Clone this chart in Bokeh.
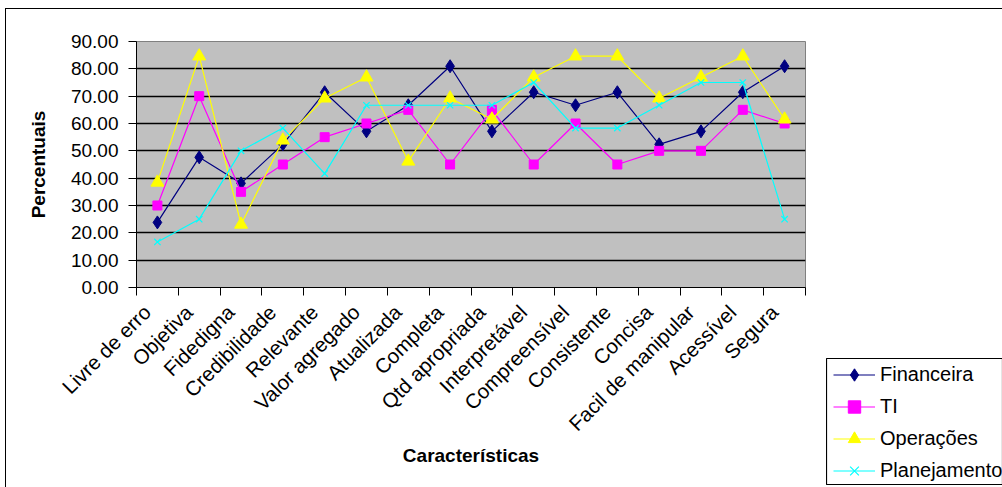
import math
from bokeh.plotting import figure
from bokeh.models import (Range1d, FixedTicker, NumeralTickFormatter, Legend,
                          LegendItem, InlineStyleSheet)
from bokeh.embed import file_html
from bokeh.resources import INLINE

categories = ["Livre de erro", "Objetiva", "Fidedigna", "Credibilidade", "Relevante",
              "Valor agregado", "Atualizada", "Completa", "Qtd apropriada",
              "Interpretável", "Compreensível", "Consistente", "Concisa",
              "Facil de manipular", "Acessível", "Segura"]
financeira = [23.81, 47.62, 38.10, 52.38, 71.43, 57.14, 66.67, 80.95, 57.14, 71.43,
              66.67, 71.43, 52.38, 57.14, 71.43, 80.95]
ti = [30, 70, 35, 45, 55, 60, 65, 45, 65, 45, 60, 45, 50, 50, 65, 60]
operacoes = [38.46, 84.62, 23.08, 53.85, 69.23, 76.92, 46.15, 69.23, 61.54, 76.92,
             84.62, 84.62, 69.23, 76.92, 84.62, 61.54]
planejamento = [16.67, 25.00, 50.00, 58.33, 41.67, 66.67, 66.67, 66.67, 66.67, 75.00,
                58.33, 58.33, 66.67, 75.00, 75.00, 25.00]
y_ticks = [0, 10, 20, 30, 40, 50, 60, 70, 80, 90]
series_names = ["Financeira", "TI", "Operações", "Planejamento"]

FONT = "Liberation Sans"
xs = list(range(len(categories)))
LABEL_SHIFT = 0.25  # category labels sit a little left of the category centre

p = figure(width=1002, height=487, x_range=Range1d(-0.5, len(categories) - 0.5),
           y_range=Range1d(0, 90), output_backend="svg", toolbar_location=None,
           min_border_left=136, min_border_right=197, min_border_top=41,
           min_border_bottom=200, background_fill_color="#C0C0C0",
           border_fill_color="white")
p.outline_line_color = "#808080"
p.outline_line_width = 1

# x axis
label_ticks = [i - LABEL_SHIFT for i in xs]
xa = p.xaxis[0]
xa.ticker = FixedTicker(ticks=label_ticks,
                        minor_ticks=[i - 0.5 for i in range(len(categories) + 1)])
xa.major_label_overrides = {t: c for t, c in zip(label_ticks, categories)}
xa.major_tick_line_color = None
xa.major_tick_out = 8
xa.major_tick_in = 0
xa.minor_tick_out = 8
xa.minor_tick_in = 0
xa.minor_tick_line_color = "black"
xa.axis_line_color = "black"
xa.major_label_orientation = math.pi / 4
xa.major_label_standoff = 13
xa.major_label_text_font = FONT
xa.major_label_text_font_size = "20.5px"
xa.major_label_text_color = "black"
xa.axis_label = "Características"
xa.axis_label_text_font = FONT
xa.axis_label_text_font_size = "19px"
xa.axis_label_text_font_style = "bold"
xa.axis_label_text_color = "black"
xa.axis_label_standoff = -1

# y axis
ya = p.yaxis[0]
ya.ticker = FixedTicker(ticks=y_ticks)
ya.formatter = NumeralTickFormatter(format="0.00")
ya.major_tick_out = 8
ya.major_tick_in = 0
ya.minor_tick_line_color = None
ya.axis_line_color = "black"
ya.major_label_text_font = FONT
ya.major_label_text_font_size = "19px"
ya.major_label_text_color = "black"
ya.major_label_standoff = 10
ya.axis_label = "Percentuais"
ya.axis_label_text_font = FONT
ya.axis_label_text_font_size = "19px"
ya.axis_label_text_font_style = "bold"
ya.axis_label_text_color = "black"
ya.axis_label_standoff = 19

p.xgrid.visible = False
p.ygrid.ticker = FixedTicker(ticks=y_ticks[1:-1])
p.ygrid.grid_line_color = "black"
p.ygrid.grid_line_width = 1.6

# (values, colour, marker, size in chart, size in legend)
styles = [
    (financeira, "#000080", "diamond", 13, 11),
    (ti, "#FF00FF", "square", 9, 8),
    (operacoes, "#FFFF00", "triangle", 13, 10),
    (planejamento, "#00FFFF", "x", 9, 7),
]

# legend figure, placed over the lower-right corner of the page; its frame
# outline is the legend box (right edge runs past the window, as in the original)
pl = figure(width=177, height=127, x_range=Range1d(-0.5, len(categories) - 0.5),
            y_range=Range1d(200, 300), output_backend="svg", toolbar_location=None,
            x_axis_location=None, y_axis_location=None, min_border=0,
            background_fill_color="white", border_fill_color="white",
            outline_line_color="black", outline_line_width=1.2)
pl.xgrid.visible = False
pl.ygrid.visible = False

items = []
for (vals, col, mk, sz, lsz), name in zip(styles, series_names):
    p.line(xs, vals, line_color=col, line_width=1.2)
    ln = pl.line(xs, vals, line_color=col, line_width=1.2)
    if mk == "x":
        p.scatter(xs, vals, marker=mk, size=sz, line_color=col, line_width=1.2)
        sc = pl.scatter(xs, vals, marker=mk, size=lsz, line_color=col, line_width=1.2)
    else:
        p.scatter(xs, vals, marker=mk, size=sz, fill_color=col, line_color=col)
        sc = pl.scatter(xs, vals, marker=mk, size=lsz, fill_color=col, line_color=col)
    items.append(LegendItem(label=name, renderers=[ln, sc]))

legend = Legend(items=items, location=(7, -1), label_text_font=FONT,
                label_text_font_size="20px", label_text_color="black",
                border_line_color=None, background_fill_alpha=0,
                glyph_width=42, glyph_height=31, label_height=31, spacing=1,
                padding=0, label_standoff=5, margin=0)
pl.add_layout(legend, "center")
pl.styles = {"position": "absolute", "left": "826px", "top": "358px"}

p.stylesheets = [InlineStyleSheet(css=(
    ":host { position: relative; }"
    ":host::after { content: ''; position: absolute; left: 5px; top: 8px;"
    " width: 996px; height: 478px; border-left: 1.5px solid black;"
    " border-top: 1.5px solid black; pointer-events: none; }"))]

open("out.html", "w").write(file_html([p, pl], INLINE))
